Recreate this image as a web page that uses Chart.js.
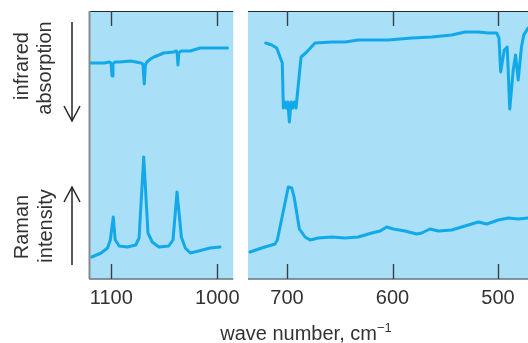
<!DOCTYPE html>
<html>
<head>
<meta charset="utf-8">
<script src="https://cdn.jsdelivr.net/npm/chart.js@4.4.1/dist/chart.umd.min.js"></script>
<style>
  html, body { margin: 0; padding: 0; background: #ffffff; }
  #wrap { position: relative; width: 528px; height: 343px; overflow: hidden; }
  #wrap canvas { position: absolute; top: 0; }
  #leftPanel { left: 0; }
  #rightPanel { left: 248px; }
  #xtitle {
    position: absolute; left: 106px; width: 400px; top: 322px;
    text-align: center; font: 20px "Liberation Sans", Arial, sans-serif; color: #333;
    white-space: nowrap;
  }
  #xtitle sup { font-size: 13px; position: relative; top: -2px; vertical-align: top; }
</style>
</head>
<body>
<div id="wrap">
  <canvas id="leftPanel" width="248" height="343"></canvas>
  <canvas id="rightPanel" width="280" height="343"></canvas>
  <div id="xtitle">wave number, cm<sup>−1</sup></div>
</div>
<script>
// ---- Spectra (wave number in cm^-1, signal in arbitrary units) ----
// High wave-number window, infrared transmission trace
const irHighWave = [1119.6, 1106.5, 1101.9, 1100.2, 1099.3, 1098.4, 1096.6, 1092.5, 1081.6, 1072.0, 1070.2,
  1068.9, 1067.8, 1066.4, 1063.0, 1059.8, 1055.0, 1050.5, 1041.1, 1038.6, 1037.9, 1037.1, 1036.3, 1034.3,
  1025.5, 1016.2, 1006.8, 990.4];
const irHighVal  = [216, 216, 217, 216, 203, 215, 217, 217, 218, 216, 215,
  195, 214, 217, 220, 222, 224, 226, 227, 228, 226, 214, 226, 228,
  228, 231, 231, 231];

// High wave-number window, Raman trace
const ramanHighWave = [1118.4, 1109.6, 1103.5, 1100.9, 1098.1, 1096.3, 1092.5, 1084.8, 1076.9, 1073.8, 1069.4,
  1065.4, 1061.4, 1055.1, 1045.8, 1041.8, 1038.0, 1033.9, 1030.2, 1025.5, 1017.8, 1006.8, 997.5];
const ramanHighVal  = [22, 26, 31, 39, 62, 39, 33, 32, 34, 41, 122,
  46, 37, 32, 33, 39, 87, 42, 31, 26, 28, 31, 32];

// Low wave-number window, infrared transmission trace
const irLowWave = [720.2, 714.5, 709.8, 706.6, 704.5, 703.5, 701.9, 700.7, 699.3, 697.8, 696.2, 694.6, 693.1, 691.5,
  686.7, 681.3, 677.0, 673.5, 657.6, 645.0, 632.4, 604.0, 581.8, 562.8, 543.9, 531.3, 518.7, 509.2, 501.3, 499.1,
  497.5, 494.1, 491.3, 488.9, 485.6, 483.4, 480.9, 477.8, 475.6, 471.6];
const irLowVal  = [236, 234, 231, 222, 216, 171, 177, 171, 177, 157, 177, 171, 177, 171,
  222, 227, 232, 236, 237, 237, 239, 239, 241, 242, 244, 247, 247, 246, 246, 241,
  207, 229, 232, 170, 209, 224, 199, 232, 244, 251];

// Low wave-number window, Raman trace
const ramanLowWave = [735.1, 724.0, 711.4, 709.2, 698.8, 695.5, 693.1, 688.3, 682.9, 678.2, 670.3, 657.6, 645.0,
  632.4, 619.7, 611.8, 605.5, 599.2, 588.2, 577.1, 572.4, 564.5, 556.6, 543.9, 531.3, 518.7, 510.7, 499.7,
  490.2, 480.8, 471.6];
const ramanLowVal  = [27, 31, 35, 39, 92, 91, 81, 50, 42, 39, 41, 42, 41,
  42, 46, 48, 52, 50, 48, 45, 46, 50, 48, 49, 53, 57, 55, 59,
  61, 60, 61];

// Axis ranges and tick labels
const highRange = [985.0, 1121.0];
const lowRange  = [471.6, 737.0];
const highTicks = [1100, 1000];
const lowTicks  = [700, 600, 500];

const PANEL_BG = '#aadff8';
const TRACE = '#12a9e9';
const INK = '#333333';
const FONT = '"Liberation Sans", Arial, sans-serif';

const toPoints = (xs, ys) => xs.map((x, i) => ({ x: x, y: ys[i] }));

// Panel background, frame lines and inward tick marks on top and bottom edges
const panelFrame = {
  id: 'panelFrame',
  beforeDatasetsDraw(chart) {
    const { ctx, chartArea: a } = chart;
    ctx.save();
    ctx.fillStyle = PANEL_BG;
    ctx.fillRect(a.left, a.top, a.right - a.left, a.bottom - a.top);
    ctx.restore();
  },
  afterDatasetsDraw(chart, args, opts) {
    const { ctx, chartArea: a } = chart;
    const xs = chart.scales.x;
    ctx.save();
    // top edge
    ctx.strokeStyle = '#1f2c38';
    ctx.lineWidth = 1.2;
    ctx.beginPath(); ctx.moveTo(a.left, a.top + 0.5); ctx.lineTo(a.right, a.top + 0.5); ctx.stroke();
    // bottom edge
    ctx.strokeStyle = '#66747c';
    ctx.lineWidth = 1.4;
    ctx.beginPath(); ctx.moveTo(a.left, a.bottom); ctx.lineTo(a.right, a.bottom); ctx.stroke();
    if (opts.leftEdge) {
      ctx.strokeStyle = '#858b8f';
      ctx.lineWidth = 2;
      ctx.beginPath(); ctx.moveTo(a.left + 0.5, a.top); ctx.lineTo(a.left + 0.5, a.bottom); ctx.stroke();
    }
    // inward ticks
    ctx.strokeStyle = '#3a3f44';
    ctx.lineWidth = 1.4;
    (opts.ticks || []).forEach(v => {
      const px = Math.round(xs.getPixelForValue(v)) + 0.5;
      ctx.beginPath(); ctx.moveTo(px, a.top); ctx.lineTo(px, a.top + 15); ctx.stroke();
      ctx.beginPath(); ctx.moveTo(px, a.bottom); ctx.lineTo(px, a.bottom - 15); ctx.stroke();
    });
    ctx.restore();
  }
};

// Rotated side captions with direction arrows
const sideCaptions = {
  id: 'sideCaptions',
  afterDraw(chart, args, opts) {
    if (!opts.show) return;
    const { ctx } = chart;
    ctx.save();
    ctx.fillStyle = INK;
    ctx.font = '20px ' + FONT;
    ctx.textAlign = 'center';
    ctx.textBaseline = 'middle';
    const rot = (text, x, y) => {
      ctx.save(); ctx.translate(x, y); ctx.rotate(-Math.PI / 2); ctx.fillText(text, 0, 0); ctx.restore();
    };
    rot('infrared', 22, 66);
    rot('absorption', 45, 68);
    rot('Raman', 22, 227);
    rot('intensity', 46, 226);

    ctx.strokeStyle = '#222';
    ctx.lineWidth = 1.5;
    // downward arrow
    ctx.beginPath(); ctx.moveTo(72, 22); ctx.lineTo(72, 121); ctx.stroke();
    ctx.beginPath(); ctx.moveTo(64, 106); ctx.lineTo(72, 121); ctx.lineTo(80, 106); ctx.stroke();
    // upward arrow
    ctx.beginPath(); ctx.moveTo(72, 265); ctx.lineTo(72, 187); ctx.stroke();
    ctx.beginPath(); ctx.moveTo(64, 202); ctx.lineTo(72, 187); ctx.lineTo(80, 202); ctx.stroke();
    ctx.restore();
  }
};

function makePanel(canvasId, range, ticks, irWave, irVal, ramanWave, ramanVal, padding, isFirst) {
  return new Chart(document.getElementById(canvasId), {
    type: 'line',
    data: {
      datasets: [
        { label: 'infrared', data: toPoints(irWave, irVal) },
        { label: 'Raman', data: toPoints(ramanWave, ramanVal) }
      ]
    },
    options: {
      responsive: false,
      animation: false,
      layout: { padding: padding },
      elements: {
        line: { borderColor: TRACE, borderWidth: 3, tension: 0, borderJoinStyle: 'round', borderCapStyle: 'round' },
        point: { radius: 0 }
      },
      scales: {
        x: {
          type: 'linear',
          reverse: true,
          min: range[0],
          max: range[1],
          afterBuildTicks: s => { s.ticks = ticks.map(v => ({ value: v })); },
          afterFit: s => { s.height = 64; },
          grid: { display: false, drawTicks: false },
          border: { display: false },
          ticks: {
            padding: 7,
            maxRotation: 0,
            autoSkip: false,
            color: INK,
            font: { family: FONT, size: 20 },
            callback: v => String(v)
          }
        },
        y: { display: false, min: 0, max: 268 }
      },
      plugins: {
        legend: { display: false },
        tooltip: { enabled: false },
        panelFrame: { ticks: ticks, leftEdge: isFirst },
        sideCaptions: { show: isFirst }
      }
    },
    plugins: [panelFrame, sideCaptions]
  });
}

makePanel('leftPanel', highRange, highTicks, irHighWave, irHighVal, ramanHighWave, ramanHighVal,
  { left: 89, right: 13, top: 11, bottom: 0 }, true);
makePanel('rightPanel', lowRange, lowTicks, irLowWave, irLowVal, ramanLowWave, ramanLowVal,
  { left: 0, right: 0, top: 11, bottom: 0 }, false);
</script>
</body>
</html>
